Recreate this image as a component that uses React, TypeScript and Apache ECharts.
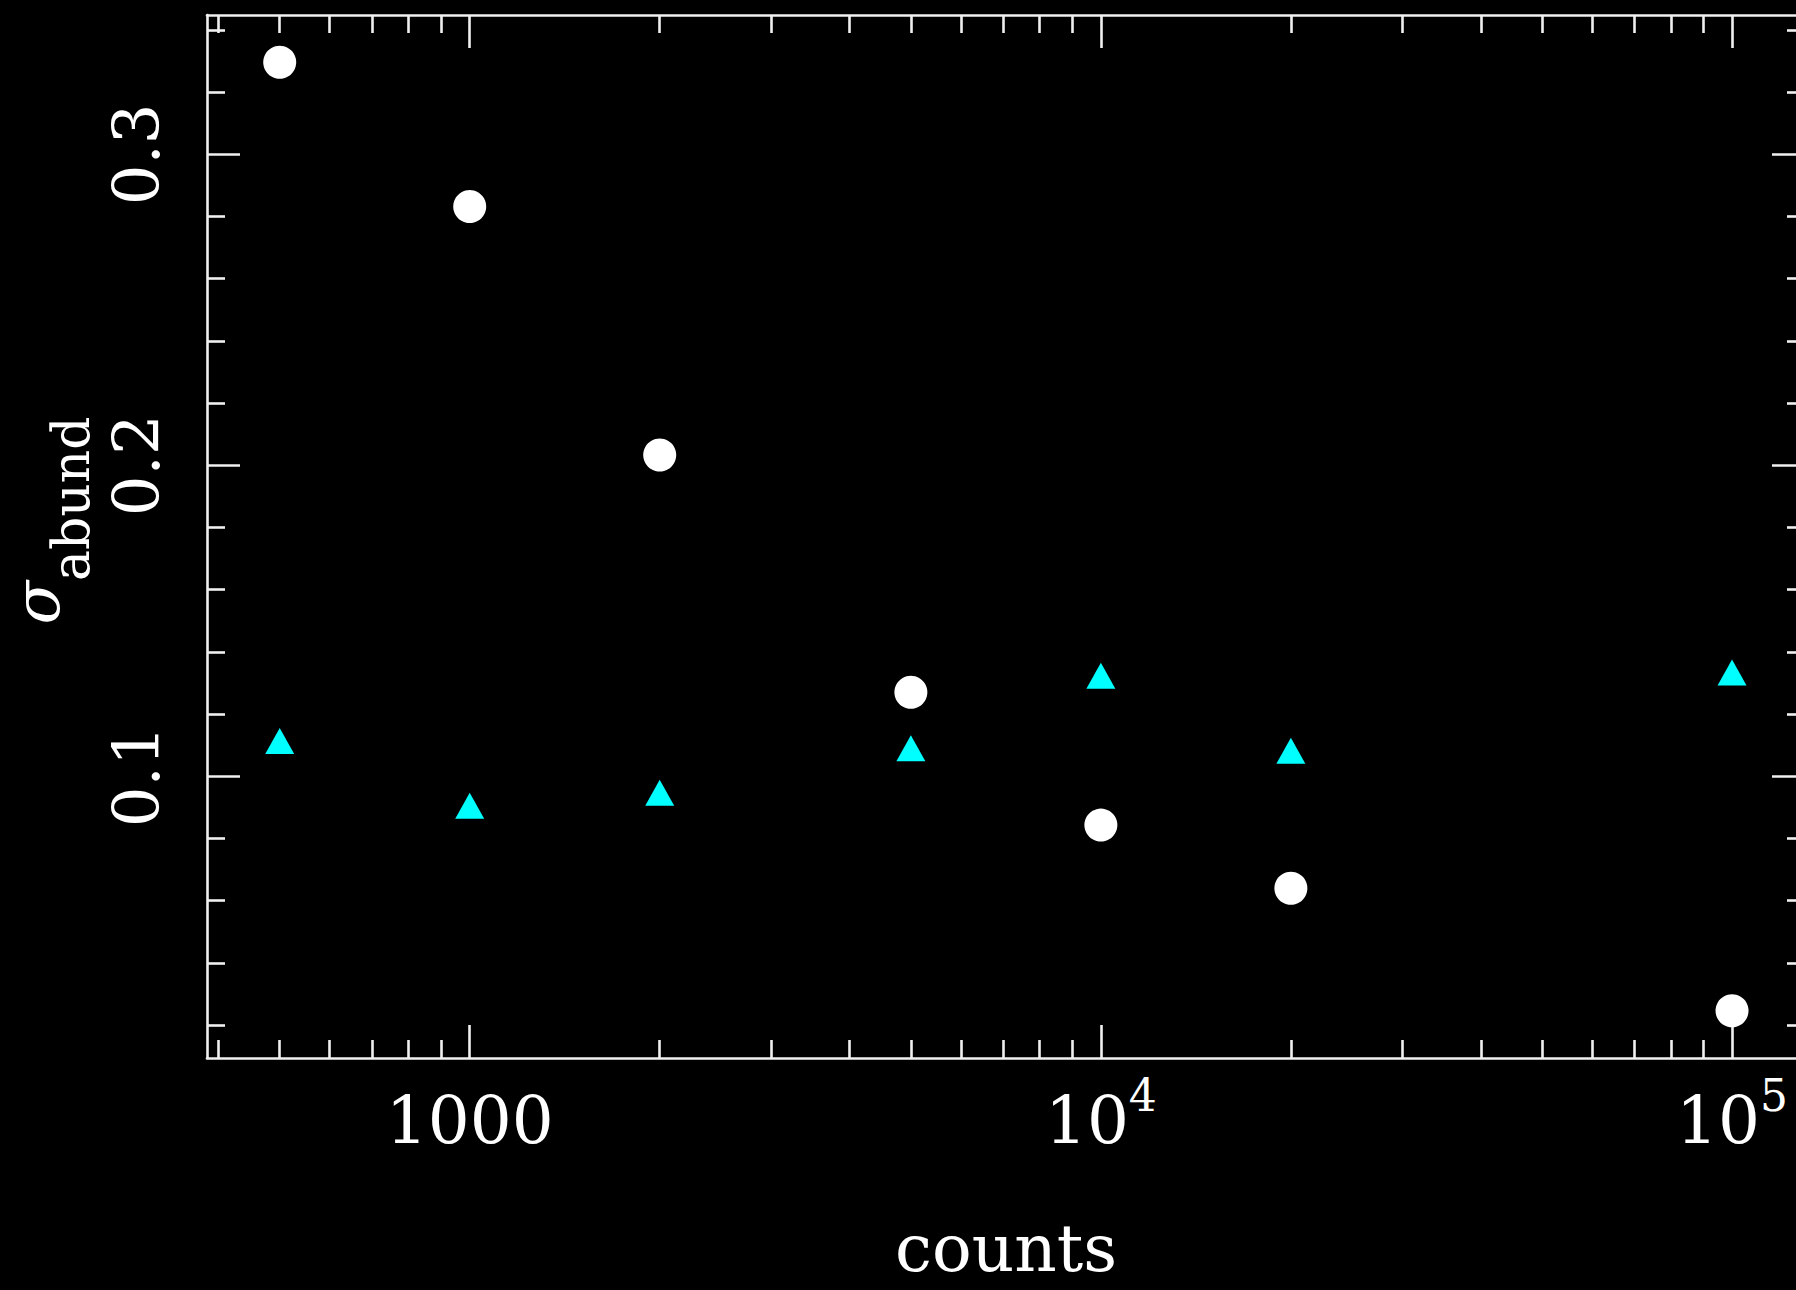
import React, { useEffect, useRef } from "react";
import * as echarts from "echarts";

// data
const counts = [500, 1000, 2000, 5000, 10000, 20000, 100000];
const sigmaWhite = [0.3296, 0.2832, 0.2033, 0.127, 0.0843, 0.064, 0.0246];
const sigmaCyan = [0.1113, 0.0905, 0.0947, 0.109, 0.1323, 0.1082, 0.1334];

// axes
const xRange = [383.5, 130500];
const yRange = [0.0094, 0.3448];
const xMajorTicks = [1000, 10000, 100000];
const xMinorTicks = [
  400, 500, 600, 700, 800, 900, 2000, 3000, 4000, 5000, 6000, 7000, 8000, 9000,
  20000, 30000, 40000, 50000, 60000, 70000, 80000, 90000,
];
const yMajorTicks = [0.1, 0.2, 0.3];
const yMinorTicks = [
  0.02, 0.04, 0.06, 0.08, 0.12, 0.14, 0.16, 0.18, 0.22, 0.24, 0.26, 0.28, 0.32, 0.34,
];

const AXIS = "#f0f0f0";
const FONT = "'DejaVu Serif', 'Liberation Serif', serif";

export default function App() {
  const ref = useRef<HTMLDivElement>(null);

  useEffect(() => {
    document.body.style.margin = "0";
    document.body.style.background = "#000";
    if (!ref.current) return;
    const chart = echarts.init(ref.current, null, { renderer: "svg" });

    const lineStyle = { color: AXIS, width: 2.6 };
    const xBase: any = {
      type: "log",
      logBase: 10,
      min: xRange[0],
      max: xRange[1],
      splitLine: { show: false },
      minorTick: { show: false },
      minorSplitLine: { show: false },
    };
    const yBase: any = {
      type: "value",
      min: yRange[0],
      max: yRange[1],
      splitLine: { show: false },
      minorTick: { show: false },
    };
    const major = (vals: number[]) => ({
      show: true,
      inside: true,
      length: 33,
      customValues: vals,
      lineStyle,
    });
    const minor = (vals: number[]) => ({
      show: true,
      inside: true,
      length: 18,
      customValues: vals,
      lineStyle,
    });

    const xLabelRich = {
      b: { fontFamily: FONT, fontSize: 66, lineHeight: 66, color: "#fff", padding: [14, 0, 0, 0], verticalAlign: "top" },
      s: { fontFamily: FONT, fontSize: 44, lineHeight: 44, color: "#fff", verticalAlign: "top" },
    };

    chart.setOption({
      animation: false,
      backgroundColor: "#000",
      grid: { left: 207, top: 15, width: 1598, height: 1043, outerBoundsMode: "none", containLabel: false },
      xAxis: [
        {
          ...xBase,
          position: "bottom",
          axisLine: { show: true, onZero: false, lineStyle },
          axisTick: major(xMajorTicks),
          axisLabel: {
            show: true,
            customValues: xMajorTicks,
            margin: 15,
            color: "#fff",
            fontFamily: FONT,
            fontSize: 66,
            formatter: (v: number) => {
              const e = Math.round(Math.log10(v));
              return e <= 3 ? `{b|${Math.round(v)}}` : `{b|10}{s|${e}}`;
            },
            rich: xLabelRich,
          },
          name: "counts",
          nameLocation: "middle",
          nameGap: 166,
          nameTextStyle: { color: "#fff", fontFamily: FONT, fontSize: 66, lineHeight: 48 },
        },
        { ...xBase, position: "bottom", axisLine: { show: false }, axisTick: minor(xMinorTicks), axisLabel: { show: false } },
        { ...xBase, position: "top", axisLine: { show: true, onZero: false, lineStyle }, axisTick: major(xMajorTicks), axisLabel: { show: false } },
        { ...xBase, position: "top", axisLine: { show: false }, axisTick: minor(xMinorTicks), axisLabel: { show: false } },
      ],
      yAxis: [
        {
          ...yBase,
          position: "left",
          axisLine: { show: true, onZero: false, lineStyle },
          axisTick: major(yMajorTicks),
          axisLabel: {
            show: true,
            customValues: yMajorTicks,
            rotate: 90,
            margin: 38,
            color: "#fff",
            fontFamily: FONT,
            fontSize: 64,
            formatter: (v: number) => v.toFixed(1),
          },
          name: "{s|σ}{a|abund}",
          nameLocation: "middle",
          nameRotate: 90,
          nameGap: 124,
          nameTextStyle: {
            color: "#fff",
            rich: {
              s: { fontFamily: FONT, fontSize: 64, fontStyle: "italic", lineHeight: 70, color: "#fff", verticalAlign: "top", padding: [0, 0, 0, 32] },
              a: { fontFamily: FONT, fontSize: 52, lineHeight: 52, color: "#fff", padding: [40, 0, 0, 0], verticalAlign: "top" },
            },
          },
        },
        { ...yBase, position: "left", axisLine: { show: false }, axisTick: minor(yMinorTicks), axisLabel: { show: false } },
        { ...yBase, position: "right", axisLine: { show: true, onZero: false, lineStyle }, axisTick: major(yMajorTicks), axisLabel: { show: false } },
        { ...yBase, position: "right", axisLine: { show: false }, axisTick: minor(yMinorTicks), axisLabel: { show: false } },
      ],
      series: [
        {
          name: "white",
          type: "scatter",
          xAxisIndex: 0,
          yAxisIndex: 0,
          symbol: "circle",
          symbolSize: 33,
          itemStyle: { color: "#ffffff", opacity: 1 },
          data: counts.map((c, i) => [c, sigmaWhite[i]]),
        },
        {
          name: "cyan",
          type: "scatter",
          xAxisIndex: 0,
          yAxisIndex: 0,
          symbol: "triangle",
          symbolSize: [29, 26],
          itemStyle: { color: "#00ffff", opacity: 1 },
          data: counts.map((c, i) => [c, sigmaCyan[i]]),
        },
      ],
    });

    return () => chart.dispose();
  }, []);

  return <div ref={ref} style={{ width: 1796, height: 1290, background: "#000" }} />;
}
